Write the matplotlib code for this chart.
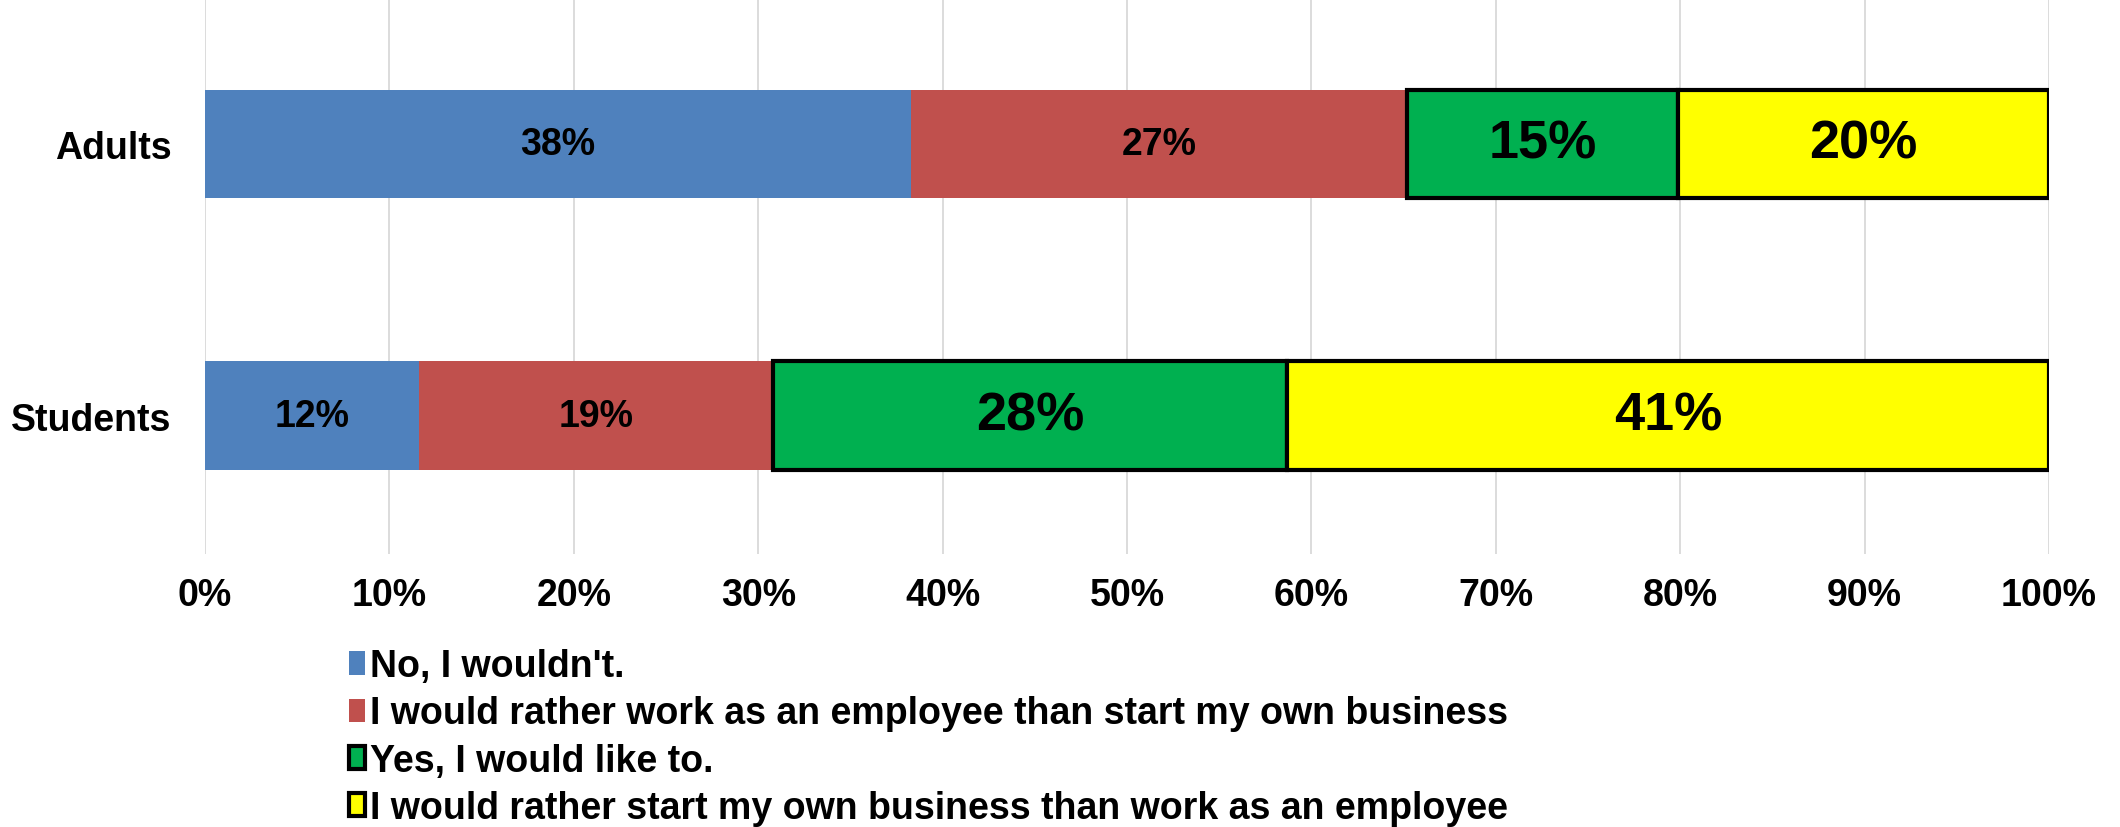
import matplotlib
matplotlib.use("Agg")
import matplotlib.pyplot as plt
from matplotlib.patches import Patch

plt.rcParams['font.family'] = ['Liberation Sans', 'DejaVu Sans']
plt.rcParams['font.weight'] = 'bold'

categories = ["Students", "Adults"]
series_names = ["No, I wouldn't.",
                "I would rather work as an employee than start my own business",
                "Yes, I would like to.",
                "I would rather start my own business than work as an employee"]
no_vals = [11.6, 38.3]
employee_vals = [19.2, 26.9]
yes_vals = [27.9, 14.7]
own_vals = [41.3, 20.1]
xticks = [0, 10, 20, 30, 40, 50, 60, 70, 80, 90, 100]

colors = ["#4F81BD", "#C0504D", "#00B050", "#FFFF00"]
edges = [None, None, "black", "black"]
label_sizes = [27, 27, 39, 39]

fig = plt.figure(figsize=(21.2, 8.28), dpi=100)
ax = fig.add_axes([0.0967, 0.330, 0.8698, 0.670])

series = [no_vals, employee_vals, yes_vals, own_vals]
left = [0.0] * len(categories)
ypos = list(range(len(categories)))
for vals, c, ec, fs in zip(series, colors, edges, label_sizes):
    if ec:
        bars = ax.barh(ypos, vals, left=left, height=0.40, color=c,
                       edgecolor=ec, linewidth=3, zorder=3)
    else:
        bars = ax.barh(ypos, vals, left=left, height=0.40, color=c,
                       linewidth=0, zorder=2)
    ax.bar_label(bars, labels=["%d%%" % round(v) for v in vals],
                 label_type='center', fontsize=fs, fontweight='bold', color='black')
    left = [l + v for l, v in zip(left, vals)]

ax.set_xlim(0, 100)
ax.set_ylim(-0.507, 1.533)
ax.set_xticks(xticks)
ax.set_xticklabels(["%d%%" % t for t in xticks], fontsize=27, fontweight='bold')
ax.set_yticks(ypos)
ax.set_yticklabels(categories, fontsize=27, fontweight='bold')
ax.tick_params(length=0)
ax.tick_params(axis='x', pad=17)
ax.tick_params(axis='y', pad=24)
ax.grid(axis='x', color="#D9D9D9", linewidth=1.3, zorder=0)
ax.set_axisbelow(True)
for s in ax.spines.values():
    s.set_visible(False)

handles = []
for c, ec, name in zip(colors, edges, series_names):
    if ec:
        handles.append(Patch(facecolor=c, edgecolor=ec, linewidth=3, label=name))
    else:
        handles.append(Patch(facecolor=c, edgecolor='none', label=name))
fig.legend(handles=handles, loc='upper left', bbox_to_anchor=(0.1645, 0.216),
           frameon=False, fontsize=27, handlelength=0.43, handleheight=0.58,
           handletextpad=0.15, labelspacing=0.30, borderaxespad=0,
           borderpad=0)

plt.savefig("out.png", dpi=100)
plt.close()
